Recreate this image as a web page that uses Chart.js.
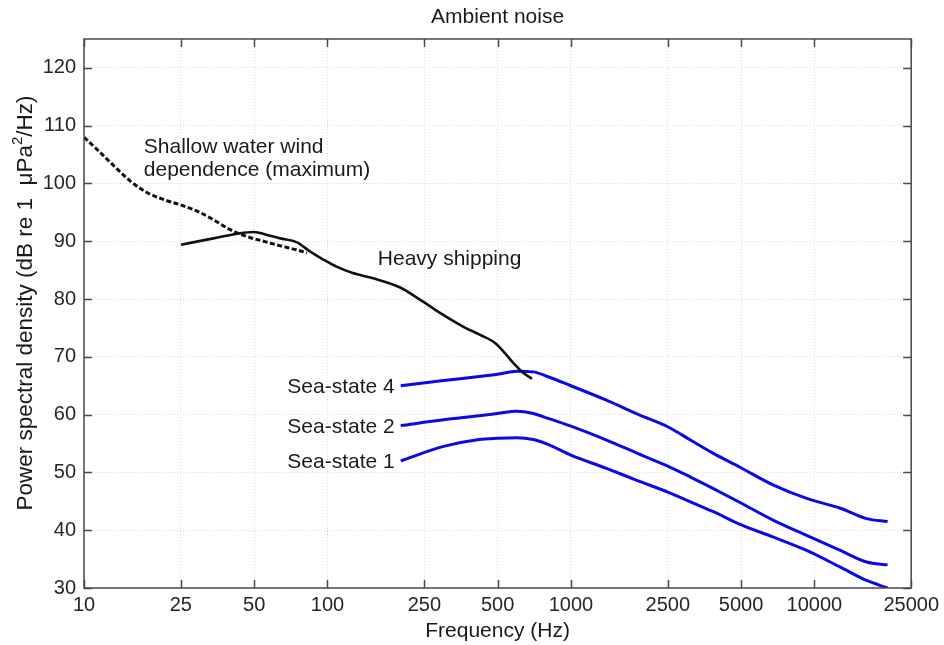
<!DOCTYPE html>
<html>
<head>
<meta charset="utf-8">
<title>Ambient noise</title>
<script src="https://cdn.jsdelivr.net/npm/chart.js@4.4.0/dist/chart.umd.min.js"></script>
<style>
  html, body { margin: 0; padding: 0; background: #ffffff; }
  #wrap { width: 944px; height: 645px; }
</style>
</head>
<body>
<div id="wrap"><canvas id="noise-chart" width="944" height="645"></canvas></div>
<script>
// --- DATA ---
const xTicks = [10, 25, 50, 100, 250, 500, 1000, 2500, 5000, 10000, 25000];
const yTicks = [30, 40, 50, 60, 70, 80, 90, 100, 110, 120];

// Shallow water wind dependence (maximum), dashed
const windFreq  = [10, 11.7, 13.3, 15.5, 18.2, 21.3, 24.9, 29.2, 34.1, 39.9, 46.8, 54.7, 64.1, 75, 82.4];
const windLevel = [108.0, 105.3, 103.0, 100.4, 98.4, 97.2, 96.3, 95.2, 93.7, 92.0, 90.8, 90.0, 89.2, 88.5, 88.0];

// Heavy shipping, solid black
const shipFreq  = [25, 34, 42.6, 49.8, 56.5, 64, 75, 85, 96.5, 109, 127, 154, 199, 240, 290, 362, 424, 488, 537, 581, 638, 692];
const shipLevel = [89.4, 90.5, 91.3, 91.6, 91.1, 90.5, 89.8, 88.2, 86.8, 85.6, 84.5, 83.6, 82.0, 79.9, 77.6, 75.2, 73.8, 72.4, 70.6, 68.9, 67.2, 66.2];

// Sea states, blue
const seaFreq = [200, 300, 420, 500, 600, 700, 800, 1000, 1400, 1900, 2500, 3100, 3850, 4950, 6800, 9300, 12800, 16400, 20000];
const sea4 = [65.0, 65.9, 66.6, 67.0, 67.5, 67.4, 66.6, 65.0, 62.5, 60.0, 57.9, 55.6, 53.3, 50.9, 47.8, 45.5, 43.8, 42.0, 41.5];
const sea2 = [58.1, 59.1, 59.8, 60.2, 60.6, 60.2, 59.4, 58.0, 55.6, 53.2, 51.1, 49.2, 47.2, 44.8, 41.7, 39.1, 36.5, 34.5, 34.0];
const sea1 = [52.0, 54.5, 55.7, 55.9, 56.0, 55.7, 54.9, 53.0, 50.7, 48.5, 46.6, 44.9, 43.2, 41.0, 38.8, 36.5, 33.6, 31.3, 30.0];

const FONT = '"Liberation Sans", Arial, Helvetica, sans-serif';
const TEXT_COLOR = '#1a1a1a';

function toPoints(xs, ys) {
    return xs.map((x, i) => ({ x: x, y: ys[i] }));
}

// --- PLUGIN: frame, inside tick marks, titles and curve labels ---
const frameAndLabels = {
    id: 'frameAndLabels',
    afterDraw(chart) {
        const ctx = chart.ctx;
        const area = chart.chartArea;
        const xs = chart.scales.x;
        const ys = chart.scales.y;

        // axes box
        ctx.save();
        ctx.strokeStyle = '#4a4a4a';
        ctx.lineWidth = 1.5;
        ctx.strokeRect(area.left, area.top, area.right - area.left, area.bottom - area.top);

        // tick marks pointing inwards, on all four sides
        const tl = 8;
        ctx.beginPath();
        xTicks.forEach(v => {
            const px = Math.round(xs.getPixelForValue(v)) + 0.5;
            ctx.moveTo(px, area.bottom); ctx.lineTo(px, area.bottom - tl);
            ctx.moveTo(px, area.top); ctx.lineTo(px, area.top + tl);
        });
        yTicks.forEach(v => {
            const py = Math.round(ys.getPixelForValue(v)) + 0.5;
            ctx.moveTo(area.left, py); ctx.lineTo(area.left + tl, py);
            ctx.moveTo(area.right, py); ctx.lineTo(area.right - tl, py);
        });
        ctx.stroke();

        ctx.fillStyle = TEXT_COLOR;
        ctx.font = '21px ' + FONT;
        const cx = (area.left + area.right) / 2;

        // title and x label
        ctx.textAlign = 'center';
        ctx.textBaseline = 'alphabetic';
        ctx.fillText('Ambient noise', cx, 23);
        ctx.fillText('Frequency (Hz)', cx, 637);

        // y label with superscript 2
        const part1 = 'Power spectral density (dB re 1  \u03bcPa';
        const part2 = '/Hz)';
        ctx.font = '22.5px ' + FONT;
        const w1 = ctx.measureText(part1).width;
        const w3 = ctx.measureText(part2).width;
        ctx.font = '15px ' + FONT;
        const w2 = ctx.measureText('2').width;
        const total = w1 + w2 + w3;
        ctx.save();
        ctx.translate(32, 303);
        ctx.rotate(-Math.PI / 2);
        ctx.textAlign = 'left';
        const sx = -total / 2;
        ctx.font = '22.5px ' + FONT;
        ctx.fillText(part1, sx, 0);
        ctx.font = '15px ' + FONT;
        ctx.fillText('2', sx + w1, -10);
        ctx.font = '22.5px ' + FONT;
        ctx.fillText(part2, sx + w1 + w2, 0);
        ctx.restore();

        // curve labels
        ctx.font = '21px ' + FONT;
        ctx.textAlign = 'left';
        const wx = xs.getPixelForValue(17.6);
        const wy = ys.getPixelForValue(105.3);
        ctx.fillText('Shallow water wind', wx, wy);
        ctx.fillText('dependence (maximum)', wx, wy + 23.5);
        ctx.fillText('Heavy shipping', xs.getPixelForValue(161), ys.getPixelForValue(85.9));

        ctx.textAlign = 'right';
        const lx = xs.getPixelForValue(seaFreq[0]) - 6;
        ctx.fillText('Sea-state 4', lx, ys.getPixelForValue(sea4[0]) + 7);
        ctx.fillText('Sea-state 2', lx, ys.getPixelForValue(sea2[0]) + 7);
        ctx.fillText('Sea-state 1', lx, ys.getPixelForValue(sea1[0]) + 7);
        ctx.restore();
    }
};

const lineBase = {
    pointRadius: 0,
    pointHoverRadius: 0,
    fill: false,
    cubicInterpolationMode: 'monotone',
    borderCapStyle: 'butt',
    borderJoinStyle: 'round'
};

const ctx = document.getElementById('noise-chart').getContext('2d');
new Chart(ctx, {
    type: 'line',
    data: {
        datasets: [
            Object.assign({}, lineBase, {
                label: 'Shallow water wind dependence (maximum)',
                data: toPoints(windFreq, windLevel),
                borderColor: '#111111', borderWidth: 3, borderDash: [5, 2.5]
            }),
            Object.assign({}, lineBase, {
                label: 'Heavy shipping',
                data: toPoints(shipFreq, shipLevel),
                borderColor: '#111111', borderWidth: 2.6
            }),
            Object.assign({}, lineBase, {
                label: 'Sea-state 4',
                data: toPoints(seaFreq, sea4),
                borderColor: '#0a0ae6', borderWidth: 3
            }),
            Object.assign({}, lineBase, {
                label: 'Sea-state 2',
                data: toPoints(seaFreq, sea2),
                borderColor: '#0a0ae6', borderWidth: 3
            }),
            Object.assign({}, lineBase, {
                label: 'Sea-state 1',
                data: toPoints(seaFreq, sea1),
                borderColor: '#0a0ae6', borderWidth: 3
            })
        ]
    },
    options: {
        responsive: false,
        animation: false,
        devicePixelRatio: 1,
        layout: { padding: { left: 0, right: 32, top: 39, bottom: 0 } },
        plugins: {
            legend: { display: false },
            tooltip: { enabled: false },
            title: { display: false }
        },
        scales: {
            x: {
                type: 'logarithmic',
                min: 10,
                max: 25000,
                afterBuildTicks: scale => { scale.ticks = xTicks.map(v => ({ value: v })); },
                afterFit: scale => { scale.height = 57; },
                ticks: {
                    autoSkip: false,
                    maxRotation: 0,
                    padding: 5,
                    color: '#262626',
                    font: { family: FONT, size: 20 },
                    callback: v => String(v)
                },
                grid: { color: '#dadada', lineWidth: 1, drawTicks: false },
                border: { display: false, dash: [1, 2] }
            },
            y: {
                type: 'linear',
                min: 30,
                max: 125,
                afterBuildTicks: scale => { scale.ticks = yTicks.map(v => ({ value: v })); },
                afterFit: scale => { scale.width = 84; },
                ticks: {
                    padding: 8,
                    color: '#262626',
                    font: { family: FONT, size: 20 },
                    callback: v => String(v)
                },
                grid: { color: '#dadada', lineWidth: 1, drawTicks: false },
                border: { display: false, dash: [1, 2] }
            }
        }
    },
    plugins: [frameAndLabels]
});
</script>
</body>
</html>
